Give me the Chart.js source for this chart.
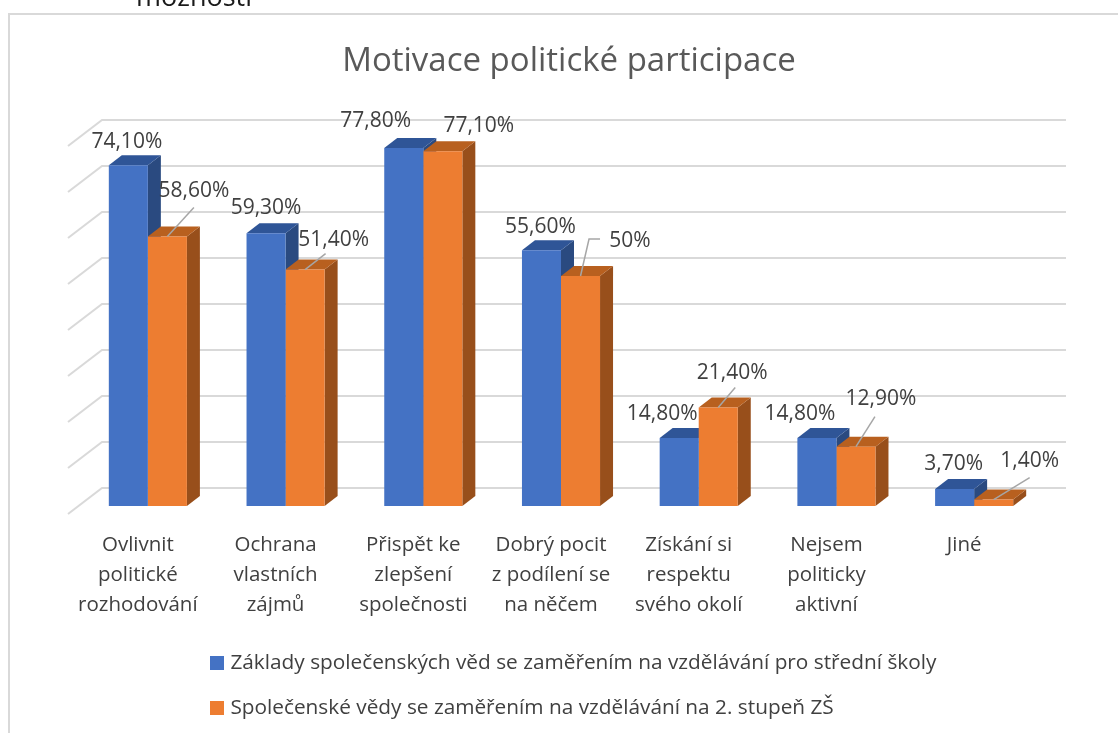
<!DOCTYPE html>
<html><head><meta charset="utf-8">
<style>html,body{margin:0;padding:0;background:#fff}canvas{display:block}</style>
<script src="https://cdn.jsdelivr.net/npm/chart.js@4"></script>
</head><body><canvas id="c" width="1118" height="733"></canvas>
<script>
const categories = [
  ["Ovlivnit","politické","rozhodování"],
  ["Ochrana","vlastních","zájmů"],
  ["Přispět ke","zlepšení","společnosti"],
  ["Dobrý pocit","z podílení se","na něčem"],
  ["Získání si","respektu","svého okolí"],
  ["Nejsem","politicky","aktivní"],
  ["Jiné"]
];
const seriesNames = [
  "Základy společenských věd se zaměřením na vzdělávání pro střední školy",
  "Společenské vědy se zaměřením na vzdělávání na 2. stupeň ZŠ"
];
const blueValues = [74.1,59.3,77.8,55.6,14.8,14.8,3.7];
const orangeValues = [58.6,51.4,77.1,50,21.4,12.9,1.4];
const pageTitle = "Motivace politické participace";
const cutText = "možnosti";

// Layout offsets of data labels and leaders, relative to each bar's top centre
const labelOffsets = [
  [[-1.5,-23],[0,-25],[-28,-27],[-1,-23],[-17,-24],[-17,-24],[-1,-25]],
  [[26.5,-45],[28.5,-29.6],[36,-25],[49.5,-35],[14,-34.6],[25,-47.7],[36,-38.6]]
];
const leaderPaths = [
  [null,null,null,null,null,null,null],
  [[[26.5,-29]],[[20.5,-16]],null,[[19.5,-37],[8.5,-37]],[[17,-20]],[[19,-30]],[[36,-22]]]
];
const FONT = '"Open Sans"';
const TICK_SIZE = 20.5, DATA_SIZE = 21, LEGEND_SIZE = 20.8;
const DX = 13, DY = 10;
const faces = [{top:'#2f5597',side:'#2a4a80'},{top:'#b8601f',side:'#984f1b'}];
const fmt = v => (Number.isInteger(v) ? String(v) : v.toFixed(2).replace('.',',')) + '%';

const scene3d = {
  id:'scene3d',
  afterLayout(chart){
    const l = chart.legend; l.left = 189.8; l.top = 628.4;
    const t = chart.titleBlock; t.left = 0; t.right = 1138;
  },
  beforeDraw(chart){
    const c = chart.ctx; c.save();
    c.fillStyle='#fff'; c.fillRect(0,0,chart.width,chart.height);
    c.strokeStyle='#d9d9d9'; c.lineWidth=2;
    c.beginPath(); c.moveTo(9,733); c.lineTo(9,14); c.lineTo(1118,14); c.stroke();
    c.fillStyle='#1a1a1a'; c.font='27px '+FONT; c.textAlign='left'; c.textBaseline='alphabetic';
    c.fillText(cutText,136,6);
    c.restore();
  },
  beforeDatasetsDraw(chart){
    const c = chart.ctx, y = chart.scales.y;
    c.save();
    c.strokeStyle='#d9d9d9'; c.lineWidth=2;
    y.ticks.forEach(t=>{
      const p = y.getPixelForValue(t.value);
      c.beginPath(); c.moveTo(68,p+8); c.lineTo(102,p-18); c.lineTo(1066,p-18); c.stroke();
    });
    [0,1].forEach(d=>{
      chart.getDatasetMeta(d).data.forEach(b=>{
        const l=b.x-b.width/2, r=b.x+b.width/2;
        c.fillStyle=faces[d].side;
        c.beginPath(); c.moveTo(r,b.y); c.lineTo(r+DX,b.y-DY); c.lineTo(r+DX,b.base-DY); c.lineTo(r,b.base); c.closePath(); c.fill();
        c.fillStyle=faces[d].top;
        c.beginPath(); c.moveTo(l,b.y); c.lineTo(l+DX,b.y-DY); c.lineTo(r+DX,b.y-DY); c.lineTo(r,b.y); c.closePath(); c.fill();
      });
    });
    c.restore();
  },
  afterDatasetsDraw(chart){
    const c = chart.ctx; c.save();
    [0,1].forEach(d=>{
      chart.getDatasetMeta(d).data.forEach((b,i)=>{
        const lead = leaderPaths[d][i];
        if(lead){
          c.strokeStyle='#a6a6a6'; c.lineWidth=1.5; c.beginPath();
          c.moveTo(b.x+lead[0][0],b.y+lead[0][1]);
          lead.slice(1).forEach(p=>c.lineTo(b.x+p[0],b.y+p[1]));
          c.lineTo(b.x,b.y); c.stroke();
        }
      });
    });
    c.fillStyle='#404040'; c.font=DATA_SIZE+'px '+FONT; c.textAlign='center'; c.textBaseline='middle';
    [0,1].forEach(d=>{
      const ds = chart.data.datasets[d];
      chart.getDatasetMeta(d).data.forEach((b,i)=>{
        const o = labelOffsets[d][i];
        c.fillText(fmt(ds.data[i]),b.x+o[0],b.y+o[1]);
      });
    });
    c.restore();
  }
};

new Chart(document.getElementById('c'),{
  type:'bar',
  data:{labels:categories,datasets:[
    {label:seriesNames[0],data:blueValues,backgroundColor:'#4472c4',borderWidth:0},
    {label:seriesNames[1],data:orangeValues,backgroundColor:'#ed7d31',borderWidth:0}
  ]},
  plugins:[scene3d],
  options:{
    responsive:false,animation:false,
    layout:{padding:{left:79,right:75,top:0,bottom:0}},
    datasets:{bar:{categoryPercentage:0.567,barPercentage:1}},
    scales:{
      x:{grid:{display:false,drawTicks:false},border:{display:false},
         afterFit(s){s.height=127;},
         ticks:{autoSkip:false,maxRotation:0,minRotation:0,padding:24,labelOffset:-10,color:'#404040',
                font:{family:FONT,size:TICK_SIZE,lineHeight:30/TICK_SIZE}}},
      y:{display:false,min:0,max:80,ticks:{stepSize:10}}
    },
    plugins:{
      tooltip:{enabled:false},
      title:{display:true,text:pageTitle,color:'#595959',
             font:{family:FONT,size:33,weight:'normal',lineHeight:1.25},
             padding:{top:41,bottom:55.75}},
      legend:{position:'bottom',align:'start',
              labels:{boxWidth:6,boxHeight:6,padding:24.2,color:'#404040',
                      font:{family:FONT,size:LEGEND_SIZE},
                      generateLabels(chart){
                        return Chart.defaults.plugins.legend.labels.generateLabels(chart).map(i=>{
                          i.lineWidth=8; i.strokeStyle=i.fillStyle; return i;
                        });
                      }}}
    }
  }
});
</script></body></html>
